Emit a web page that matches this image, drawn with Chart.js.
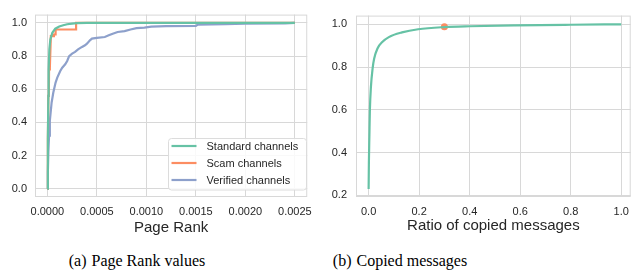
<!DOCTYPE html>
<html>
<head>
<meta charset="utf-8">
<script src="https://cdn.jsdelivr.net/npm/chart.js@4.4.1/dist/chart.umd.min.js"></script>
<style>
  html, body { margin: 0; padding: 0; background: #fff; }
  #page { position: relative; width: 637px; height: 273px; overflow: hidden; }
  .box { position: absolute; top: 0; height: 240px; }
  .cap { position: absolute; top: 251px; height: 20px; line-height: 20px;
         font-family: "Liberation Serif", serif; font-size: 16px; color: #000;
         white-space: nowrap; transform: translateX(-50%); }
  .cap span { margin-right: 5px; }
</style>
</head>
<body>
<div id="page">
  <div class="box" style="left:0;width:320px"><canvas id="rankChart" width="320" height="240"></canvas></div>
  <div class="box" style="left:320px;width:317px"><canvas id="copyChart" width="317" height="240"></canvas></div>
  <div class="cap" style="left:137px"><span>(a)</span>Page Rank values</div>
  <div class="cap" style="left:400px"><span>(b)</span>Copied messages</div>
</div>
<script>
// Data (a): CDF of page rank
const stdX = [0, 0.000005, 0.00001, 0.000013, 0.00002, 0.00003, 0.00005, 0.00008, 0.00012, 0.00016, 0.0002, 0.00025, 0.0003, 0.0004, 0.0025];
const stdY = [0, 0.3, 0.56, 0.72, 0.84, 0.9, 0.94, 0.965, 0.978, 0.986, 0.992, 0.996, 0.999, 1.0, 1.0];

const scamX = [0, 0.000005, 0.00001, 0.000015, 0.000017, 0.000025, 0.000035, 0.000066, 0.000066, 0.000083, 0.000083, 0.00029, 0.00029, 0.0025];
const scamY = [0, 0.3, 0.56, 0.58, 0.72, 0.73, 0.92, 0.92, 0.93, 0.93, 0.96, 0.96, 1.0, 1.0];

const verX = [0, 0.000005, 0.00001, 0.000017, 0.000025, 0.000043, 0.00006, 0.000083, 0.0001, 0.00013, 0.00015, 0.00018, 0.0002, 0.00022,
  0.00025, 0.00028, 0.00031, 0.00035, 0.00038, 0.0004, 0.00043, 0.00045, 0.0005, 0.00058, 0.00062, 0.00066, 0.00071, 0.00078,
  0.00084, 0.0009, 0.00098, 0.00105, 0.0012, 0.0015, 0.00152, 0.0018, 0.002, 0.0024, 0.0025];
const verY = [0, 0.1, 0.22, 0.32, 0.41, 0.52, 0.58, 0.64, 0.67, 0.71, 0.73, 0.75, 0.77, 0.8,
  0.815, 0.825, 0.84, 0.855, 0.865, 0.875, 0.895, 0.905, 0.91, 0.915, 0.925, 0.935, 0.945, 0.95,
  0.96, 0.968, 0.972, 0.977, 0.98, 0.982, 0.99, 0.992, 0.995, 0.997, 1.0];

const rankTicksX = [0, 0.0005, 0.001, 0.0015, 0.002, 0.0025];
const rankTicksY = [0, 0.2, 0.4, 0.6, 0.8, 1.0];

// Data (b): CDF of ratio of copied messages
const copyX = [0, 0.001, 0.003, 0.005, 0.009, 0.016, 0.022, 0.035, 0.054, 0.08, 0.132, 0.196, 0.3, 0.4, 0.58, 0.8, 1.0];
const copyY = [0.23, 0.35, 0.48, 0.6, 0.706, 0.796, 0.84, 0.887, 0.917, 0.94, 0.962, 0.977, 0.987, 0.991, 0.995, 0.998, 1.0];
const markX = [0.3];
const markY = [0.988];

const copyTicksX = [0, 0.2, 0.4, 0.6, 0.8, 1.0];
const copyTicksY = [0.2, 0.4, 0.6, 0.8, 1.0];

const GREEN = '#66c2a5', ORANGE = '#fc8d62', BLUE = '#8da0cb';
const GRID = '#d8d8d8', TEXT = '#262626';

Chart.defaults.font.family = '"Liberation Sans", Arial, sans-serif';
Chart.defaults.color = TEXT;

const pts = (xs, ys) => xs.map((x, i) => ({x: x, y: ys[i]}));

// grey frame around the plot area
const frame = {
  id: 'frame',
  beforeDatasetsDraw(chart) {
    const {ctx, chartArea: {left, top, right, bottom}} = chart;
    ctx.save();
    ctx.strokeStyle = GRID;
    ctx.lineWidth = 1;
    ctx.strokeRect(left + 0.5, top + 0.5, right - left - 1, bottom - top - 1);
    ctx.restore();
  }
};

// legend drawn inside the plot, lower right
const innerLegend = {
  id: 'innerLegend',
  afterDatasetsDraw(chart) {
    const ctx = chart.ctx;
    const x0 = 168.5, y0 = 138.5, w = 138, h = 51.5;
    ctx.save();
    ctx.beginPath();
    ctx.roundRect(x0, y0, w, h, 3);
    ctx.fillStyle = 'rgba(255,255,255,0.85)';
    ctx.fill();
    ctx.strokeStyle = '#dcdcdc';
    ctx.lineWidth = 1;
    ctx.stroke();
    ctx.font = '11px "Liberation Sans", Arial, sans-serif';
    ctx.textBaseline = 'middle';
    ctx.textAlign = 'left';
    chart.data.datasets.forEach((ds, i) => {
      const y = 146 + i * 17;
      ctx.strokeStyle = ds.borderColor;
      ctx.lineWidth = 2.2;
      ctx.beginPath();
      ctx.moveTo(171.5, y);
      ctx.lineTo(196.5, y);
      ctx.stroke();
      ctx.fillStyle = TEXT;
      ctx.fillText(ds.label, 206.5, y + 0.5);
    });
    ctx.restore();
  }
};

function axis(min, max, ticks, fmt, size, extra) {
  return Object.assign({
    type: 'linear',
    min: min,
    max: max,
    afterBuildTicks: s => { s.ticks = ticks.map(v => ({value: v})); },
    afterFit: s => { if (s.isHorizontal()) s.height = size; else s.width = size; },
    ticks: { callback: v => v.toFixed(fmt), font: {size: 11}, color: TEXT, padding: 8, maxRotation: 0, autoSkip: false },
    grid: { color: GRID, lineWidth: 1, drawTicks: false },
    border: { display: false }
  }, extra || {});
}

const lineStyle = { borderWidth: 2.2, pointRadius: 0, fill: false };

new Chart(document.getElementById('rankChart'), {
  type: 'line',
  data: {
    datasets: [
      Object.assign({ label: 'Standard channels', data: pts(stdX, stdY), borderColor: GREEN, backgroundColor: GREEN }, lineStyle),
      Object.assign({ label: 'Scam channels', data: pts(scamX, scamY), borderColor: ORANGE, backgroundColor: ORANGE }, lineStyle),
      Object.assign({ label: 'Verified channels', data: pts(verX, verY), borderColor: BLUE, backgroundColor: BLUE }, lineStyle)
    ]
  },
  options: {
    responsive: false,
    animation: false,
    layout: { padding: { top: 9, right: 7, left: 0, bottom: 0 } },
    plugins: { legend: { display: false }, tooltip: { enabled: false } },
    scales: {
      x: axis(-0.000125, 0.002625, rankTicksX, 4, 43, {
        title: { display: true, text: 'Page Rank', font: {size: 15}, color: TEXT, padding: {top: 0, bottom: 3} }
      }),
      y: axis(-0.05, 1.05, rankTicksY, 1, 35)
    }
  },
  plugins: [frame, innerLegend]
});

const copyYAxis = axis(0.1923, 1.0407, copyTicksY, 1, 36);
copyYAxis.ticks.padding = 9;

new Chart(document.getElementById('copyChart'), {
  type: 'line',
  data: {
    datasets: [
      Object.assign({ label: 'Copied', data: pts(copyX, copyY), borderColor: GREEN, backgroundColor: GREEN, cubicInterpolationMode: 'monotone' }, lineStyle),
      { type: 'scatter', label: 'Mark', data: pts(markX, markY), backgroundColor: ORANGE, borderColor: ORANGE, pointRadius: 3.5, borderWidth: 0 }
    ]
  },
  options: {
    responsive: false,
    animation: false,
    layout: { padding: { top: 9, right: 0, left: 0, bottom: 0 } },
    plugins: { legend: { display: false }, tooltip: { enabled: false } },
    scales: {
      x: axis(-0.05, 1.0376, copyTicksX, 1, 43, {
        title: { display: true, text: 'Ratio of copied messages', font: {size: 15}, color: TEXT, padding: {top: 0, bottom: 5} }
      }),
      y: copyYAxis
    }
  },
  plugins: [frame]
});
</script>
</body>
</html>
